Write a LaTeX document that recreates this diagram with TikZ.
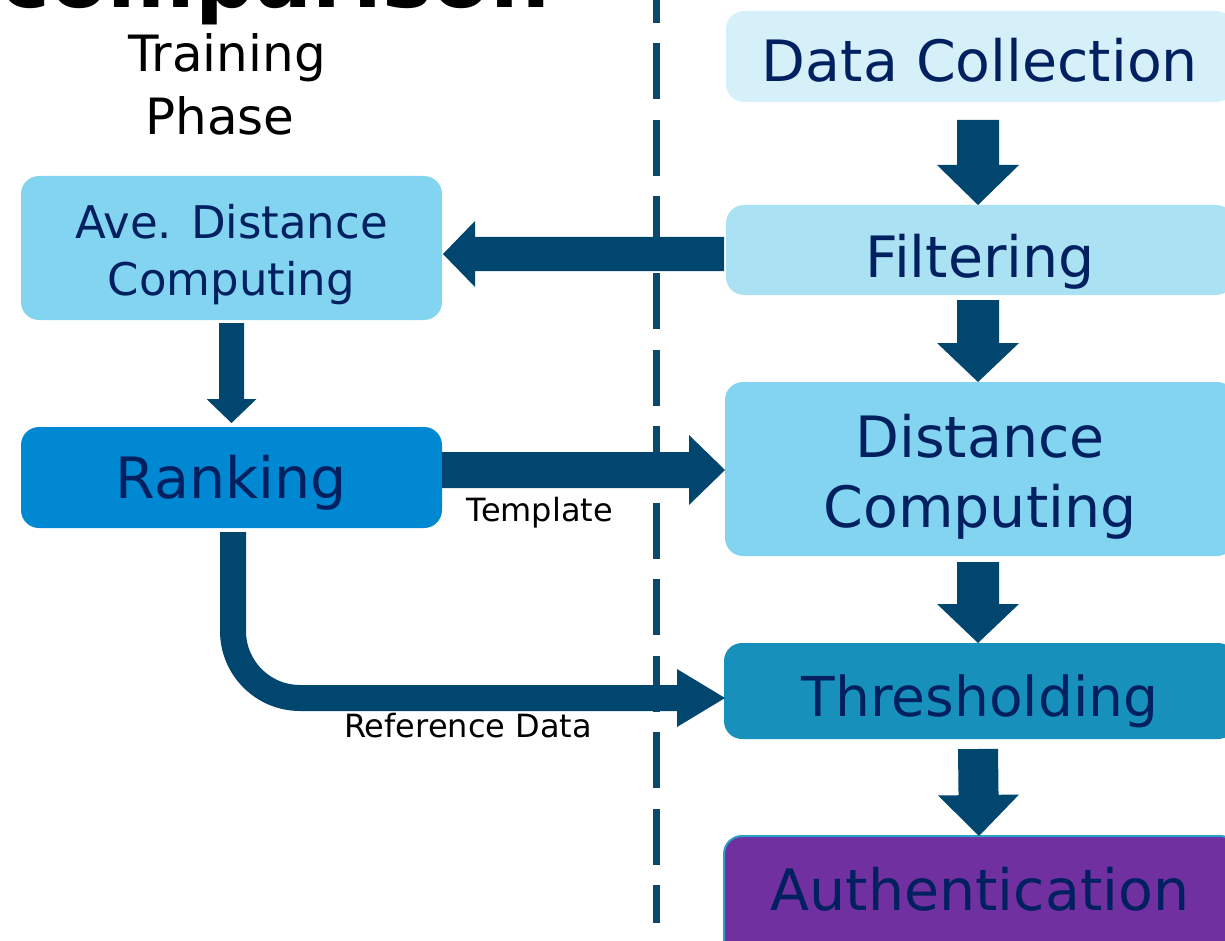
\documentclass[tikz,border=0pt]{standalone}
\usepackage{fontspec}
\setmainfont{DejaVu Sans}
\usetikzlibrary{calc}
\definecolor{arrc}{RGB}{0,70,110}
\definecolor{txtc}{RGB}{0,32,96}
\definecolor{cDC}{RGB}{214,240,249}
\definecolor{cFL}{RGB}{171,226,243}
\definecolor{cDS}{RGB}{131,212,240}
\definecolor{cRK}{RGB}{0,136,211}
\definecolor{cTH}{RGB}{23,145,188}
\definecolor{cAU}{RGB}{112,48,160}
\definecolor{cAUb}{RGB}{40,160,200}
\definecolor{dashc}{RGB}{10,72,110}
% generic block arrow: start, tip, shaft half-width, head half-width, head length
\newcommand{\blk}[5]{%
  \path ($(#2)!#5!(#1)$) coordinate (bH);
  \fill[arrc] ($(#1)!#3!90:(#2)$) -- ($(bH)!#3!90:(#2)$) -- ($(bH)!#4!90:(#2)$) -- (#2)
    -- ($(bH)!#4!-90:(#2)$) -- ($(bH)!#3!-90:(#2)$) -- ($(#1)!#3!-90:(#2)$) -- cycle;}
\begin{document}
\begin{tikzpicture}[x=1pt,y=-1pt,
  box/.style={rounded corners=18pt, inner sep=0pt, outer sep=0pt, anchor=north west},
  boxtxt/.style={inner sep=0pt, anchor=base, text=txtc},
  big/.style={font=\fontsize{57}{60}\selectfont},
  mid/.style={font=\fontsize{45}{50}\selectfont},
  small/.style={inner sep=0pt, anchor=base, font=\fontsize{32}{36}\selectfont},
  dashline/.style={draw=dashc, line width=7pt, dash pattern=on 56pt off 20.5pt}]
\useasboundingbox (0,0) rectangle (1225,941);
\clip (0,0) rectangle (1225,941);

% title (cut off)
\node[anchor=base west, inner sep=0pt, font=\fontsize{84}{90}\selectfont\bfseries] (title) at (0,8) {comparison};

% divider
\draw[dashline] (656,-33) -- (656,923);

% boxes
\node[box, fill=cDC, minimum width=508pt, minimum height=91pt] (dc) at (726,11) {};
\node[box, fill=cFL, minimum width=508pt, minimum height=90pt] (fl) at (726,205) {};
\node[box, fill=cDS, minimum width=510pt, minimum height=174pt] (ds) at (725,382) {};
\node[box, fill=cTH, minimum width=512pt, minimum height=96pt] (th) at (724,643) {};
\node[box, fill=cAU, draw=cAUb, line width=2pt, minimum width=514pt, minimum height=130pt] (au) at (724,836) {};
\node[box, fill=cDS, minimum width=421pt, minimum height=144pt] (ave) at (21,176) {};
\node[box, fill=cRK, minimum width=421pt, minimum height=101pt] (rk) at (21,427) {};

% box texts
\node[boxtxt, big] (tdc) at (980,82) {Data Collection};
\node[boxtxt, big] (tfl) at (980,277) {Filtering};
\node[boxtxt, big] (tds1) at (980,457) {Distance};
\node[boxtxt, big] (tds2) at (980,527) {Computing};
\node[boxtxt, font=\fontsize{55}{60}\selectfont] (tth) at (980,716) {Thresholding};
\node[boxtxt, big] (tau) at (980,910) {Authentication};
\node[boxtxt, mid] (tave1) at (231.5,239) {Ave. Distance};
\node[boxtxt, mid] (tave2) at (231.5,295) {Computing};
\node[boxtxt, big] (trk) at (231,498) {Ranking};

% phase label
\node[inner sep=0pt, anchor=base, font=\fontsize{50}{55}\selectfont] (tr1) at (227,72) {Training};
\node[inner sep=0pt, anchor=base, font=\fontsize{50}{55}\selectfont] (tr2) at (220,135) {Phase};

% vertical flow arrows (right)
\coordinate (a1s) at ($(dc.south)+(-2,18)$);
\coordinate (a1t) at ($(fl.north)+(-2,0)$);
\blk{a1s}{a1t}{21pt}{41pt}{40pt}
\coordinate (a2s) at ($(fl.south)+(-2,5)$);
\coordinate (a2t) at ($(ds.north)+(-2,0)$);
\blk{a2s}{a2t}{21pt}{41pt}{39pt}
\coordinate (a3s) at ($(ds.south)+(-2,6)$);
\coordinate (a3t) at ($(th.north)+(-2,0)$);
\blk{a3s}{a3t}{21pt}{41pt}{39pt}
\coordinate (a4s) at ($(th.south)+(-2,10)$);
\coordinate (a4t) at ($(au.north)+(-2,0)$);
\blk{a4s}{a4t}{20pt}{40.5pt}{41pt}

% Ave -> Ranking
\coordinate (a5s) at ($(ave.south)+(0,3)$);
\coordinate (a5t) at ($(rk.north)+(0,-4)$);
\blk{a5s}{a5t}{12.5pt}{25pt}{24pt}

% Filtering -> Ave
\coordinate (a6s) at ($(fl.west)+(-2,4)$);
\coordinate (a6t) at ($(ave.east)+(1,6)$);
\blk{a6s}{a6t}{17pt}{33pt}{32pt}

% Ranking -> Distance (Template)
\coordinate (a7t) at ($(ds.west)+(0,1)$);
\coordinate (a7s) at (rk.east |- a7t);
\blk{a7s}{a7t}{18pt}{35pt}{36pt}
\node[small] (ltmp) at (540,521) {Template};

% Ranking -> Thresholding (Reference Data)
\coordinate (rs) at ($(rk.south)+(1.5,4)$);
\coordinate (rt) at ($(th.west)+(1,7)$);
\draw[arrc, line width=26pt, rounded corners=67pt] (rs) -- (rs |- rt) -- ($(rt)+(-46,0)$);
\fill[arrc] ($(rt)+(-48,-29)$) -- (rt) -- ($(rt)+(-48,29)$) -- cycle;
\node[small] (lref) at (468,737) {Reference Data};
\end{tikzpicture}
\end{document}
